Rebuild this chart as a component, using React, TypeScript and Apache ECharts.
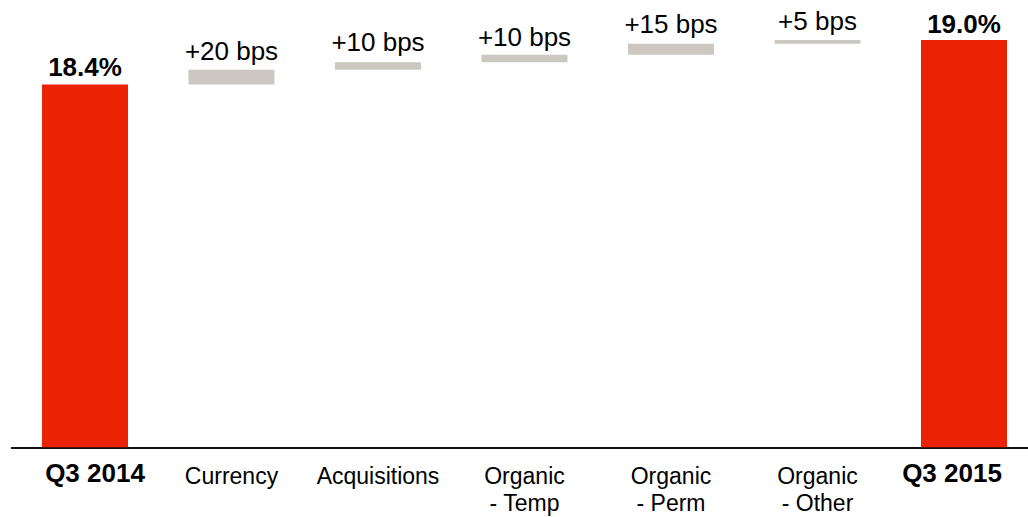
import React, { useEffect, useRef } from 'react';
import * as echarts from 'echarts';

// Operating margin bridge, Q3 2014 -> Q3 2015
const categories = [
  'Q3 2014',
  'Currency',
  'Acquisitions',
  'Organic\n- Temp',
  'Organic\n- Perm',
  'Organic\n- Other',
  'Q3 2015',
];
const startMargin = 18.4; // %
const endMargin = 19.0; // %
const bridgeBps = [20, 10, 10, 15, 5]; // basis points per driver

// Gap (px) between each bar top and its value label
const labelGap = [4, 5.5, 7.5, 5, 7, 6.5, 3];

const RED = '#EC2205';
const GREY = '#CCC7C0';
const FONT = '"Liberation Sans", Arial, Helvetica, sans-serif';

const W = 1028;
const H = 517;
const CANVAS_W = 1042; // chart is a bit wider than the view; the last category runs past the edge

export default function App() {
  const ref = useRef<HTMLDivElement>(null);

  useEffect(() => {
    const chart = echarts.init(ref.current!, null, { renderer: 'svg' });

    // Invisible base + visible step, stacked into a waterfall
    const base: number[] = [0];
    const steps: any[] = [
      {
        value: startMargin,
        itemStyle: { color: RED },
        label: { formatter: startMargin.toFixed(1) + '%', fontWeight: 'bold', distance: labelGap[0] },
      },
    ];
    let level = startMargin;
    bridgeBps.forEach((bps, i) => {
      const delta = bps / 100;
      base.push(level);
      steps.push({
        value: delta,
        itemStyle: { color: GREY },
        label: { formatter: '+' + bps + ' bps', distance: labelGap[i + 1] },
      });
      level += delta;
    });
    base.push(0);
    steps.push({
      value: endMargin,
      itemStyle: { color: RED },
      label: {
        formatter: endMargin.toFixed(1) + '%',
        fontWeight: 'bold',
        distance: labelGap[categories.length - 1],
      },
    });

    const lastIdx = categories.length - 1;

    chart.setOption({
      animation: false,
      textStyle: { fontFamily: FONT },
      grid: { left: 11.75, width: 1025.5, top: 3, bottom: 69.7, containLabel: false },
      xAxis: {
        type: 'category',
        data: categories,
        axisLine: { show: true, lineStyle: { color: '#111', width: 2 } },
        axisTick: { show: false },
        axisLabel: {
          margin: 13,
          interval: 0,
          color: '#000',
          formatter: (value: string, idx: number) => {
            const style = idx === 0 ? 'q0' : idx === lastIdx ? 'q1' : 'n';
            return value
              .split('\n')
              .map((l) => `{${style}|${l}}`)
              .join('\n');
          },
          rich: {
            q0: { fontFamily: FONT, fontSize: 26, fontWeight: 'bold', color: '#000', padding: [0, 0, 0, 20] },
            q1: { fontFamily: FONT, fontSize: 26, fontWeight: 'bold', color: '#000', padding: [0, 24, 0, 0] },
            n: { fontFamily: FONT, fontSize: 23, lineHeight: 27, color: '#000', padding: [5, 0, 0, 0] },
          },
        },
      },
      yAxis: {
        type: 'value',
        min: 13.5,
        max: 19.5,
        show: false,
        splitLine: { show: false },
      },
      series: [
        {
          type: 'bar',
          stack: 'bridge',
          data: base,
          barWidth: '58.7%',
          itemStyle: { color: 'transparent' },
          silent: true,
        },
        {
          type: 'bar',
          stack: 'bridge',
          data: steps,
          barWidth: '58.7%',
          label: {
            show: true,
            position: 'top',
            fontFamily: FONT,
            fontSize: 26,
            color: '#000',
          },
        },
      ],
    });

    return () => chart.dispose();
  }, []);

  return (
    <div
      style={{
        position: 'fixed',
        left: 0,
        top: 0,
        width: W,
        height: H,
        overflow: 'hidden',
        background: '#fff',
      }}
    >
      <div ref={ref} style={{ width: CANVAS_W, height: H }} />
    </div>
  );
}
